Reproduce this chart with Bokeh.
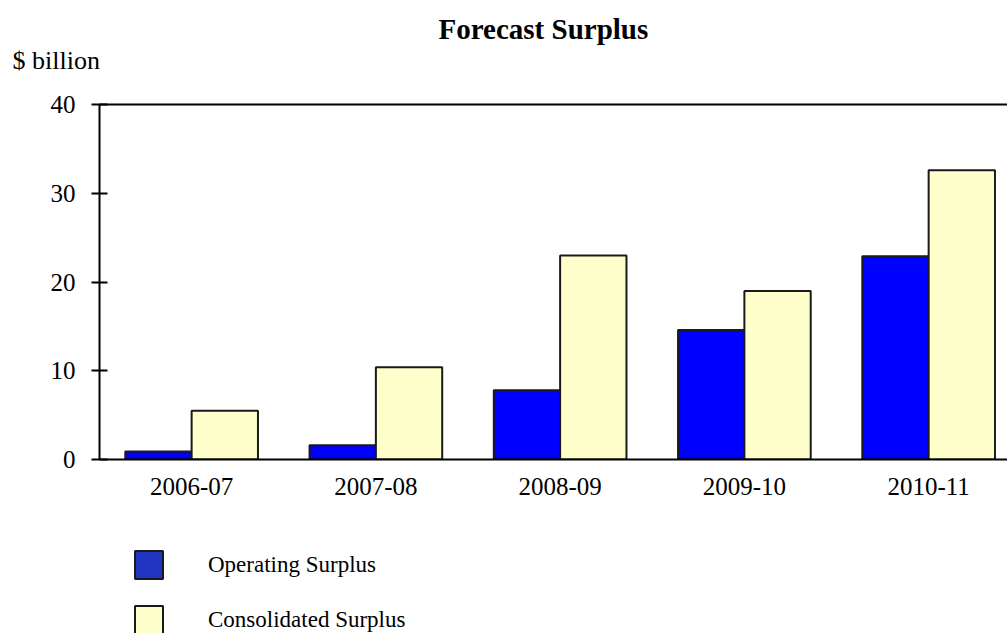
from bokeh.plotting import figure
from bokeh.layouts import column
from bokeh.models import Range1d, FixedTicker, LinearAxis, Legend, LegendItem, Title
from bokeh.embed import file_html
from bokeh.resources import INLINE

categories = ["2006-07", "2007-08", "2008-09", "2009-10", "2010-11"]
operating = [0.9, 1.6, 7.8, 14.6, 22.9]
consolidated = [5.5, 10.4, 23.0, 19.0, 32.6]
series_names = ["Operating Surplus", "Consolidated Surplus"]
y_ticks = [0, 10, 20, 30, 40]

SERIF = "Liberation Serif"
OP_COLOR = "#0000FF"
OP_SWATCH = "#2234C2"
CO_COLOR = "#FFFFCC"
EDGE = "#1a1a1a"
BAR_W = 0.36
centers = [i + 0.5 for i in range(len(categories))]

p = figure(width=1007, height=510, output_backend="svg", toolbar_location=None,
           x_range=Range1d(0, 4.928), y_range=Range1d(0, 40),
           min_border_left=99, min_border_right=0, min_border_top=104, min_border_bottom=51,
           outline_line_color=None, background_fill_color="white", border_fill_color="white")
p.grid.visible = False

p.vbar(x=[c - BAR_W / 2 for c in centers], top=operating, width=BAR_W, bottom=0,
       fill_color=OP_COLOR, line_color=EDGE, line_width=2)
p.vbar(x=[c + BAR_W / 2 for c in centers], top=consolidated, width=BAR_W, bottom=0,
       fill_color=CO_COLOR, line_color=EDGE, line_width=2)

# y axis
ya = p.yaxis[0]
ya.ticker = FixedTicker(ticks=y_ticks)
ya.major_tick_in = 8
ya.major_tick_out = 8
ya.minor_tick_line_color = None
ya.axis_line_width = 2
ya.major_tick_line_width = 2
ya.major_label_text_font = SERIF
ya.major_label_text_font_size = "25px"
ya.major_label_text_color = "black"
ya.major_label_standoff = 16

# x axis
xa = p.xaxis[0]
xa.ticker = FixedTicker(ticks=centers)
xa.major_label_overrides = {c: lab for c, lab in zip(centers, categories)}
xa.major_tick_in = 0
xa.major_tick_out = 0
xa.minor_tick_line_color = None
xa.axis_line_width = 2
xa.major_label_text_font = SERIF
xa.major_label_text_font_size = "25px"
xa.major_label_text_color = "black"
xa.major_label_standoff = 18

# top frame line
top = LinearAxis(ticker=FixedTicker(ticks=[]), major_label_text_font_size="0px",
                 major_tick_in=0, major_tick_out=0, minor_tick_line_color=None,
                 major_label_standoff=0, axis_line_width=2)
p.add_layout(top, "above")

p.add_layout(Title(text="$ billion", align="left", offset=-87, standoff=60,
                   text_font=SERIF, text_font_style="normal", text_font_size="26px",
                   text_color="black"), "above")
p.add_layout(Title(text="Forecast Surplus", align="left", offset=339, standoff=-63,
                   text_font=SERIF, text_font_style="bold", text_font_size="29px",
                   text_color="black"), "above")

# legend in a strip below the chart
lf = figure(width=1007, height=123, output_backend="svg", toolbar_location=None,
            x_range=Range1d(0, 1), y_range=Range1d(0, 1),
            x_axis_location=None, y_axis_location=None,
            min_border=0, min_border_left=0, min_border_right=0,
            min_border_top=0, min_border_bottom=0,
            outline_line_color=None, border_fill_color="white", background_fill_color="white")
lf.grid.visible = False
# hidden swatch renderers; only their legend entries are drawn
l_op = lf.vbar(x=[0.5], top=[1], width=0.1, fill_color=OP_SWATCH, line_color=EDGE,
               line_width=2, visible=False)
l_co = lf.vbar(x=[0.5], top=[1], width=0.1, fill_color=CO_COLOR, line_color=EDGE,
               line_width=2, visible=False)
legend = Legend(items=[LegendItem(label=series_names[0], renderers=[l_op]),
                       LegendItem(label=series_names[1], renderers=[l_co])],
                location=(32, -4), orientation="vertical", click_policy="none",
                glyph_width=35, glyph_height=35, label_standoff=42, spacing=20,
                padding=0, margin=0, border_line_color=None, background_fill_alpha=0,
                inactive_fill_alpha=0,
                label_text_font=SERIF, label_text_font_size="23px", label_text_color="black",
                label_height=35)
lf.add_layout(legend, "center")

layout = column(p, lf, spacing=0)
open("out.html", "w").write(file_html(layout, INLINE))
